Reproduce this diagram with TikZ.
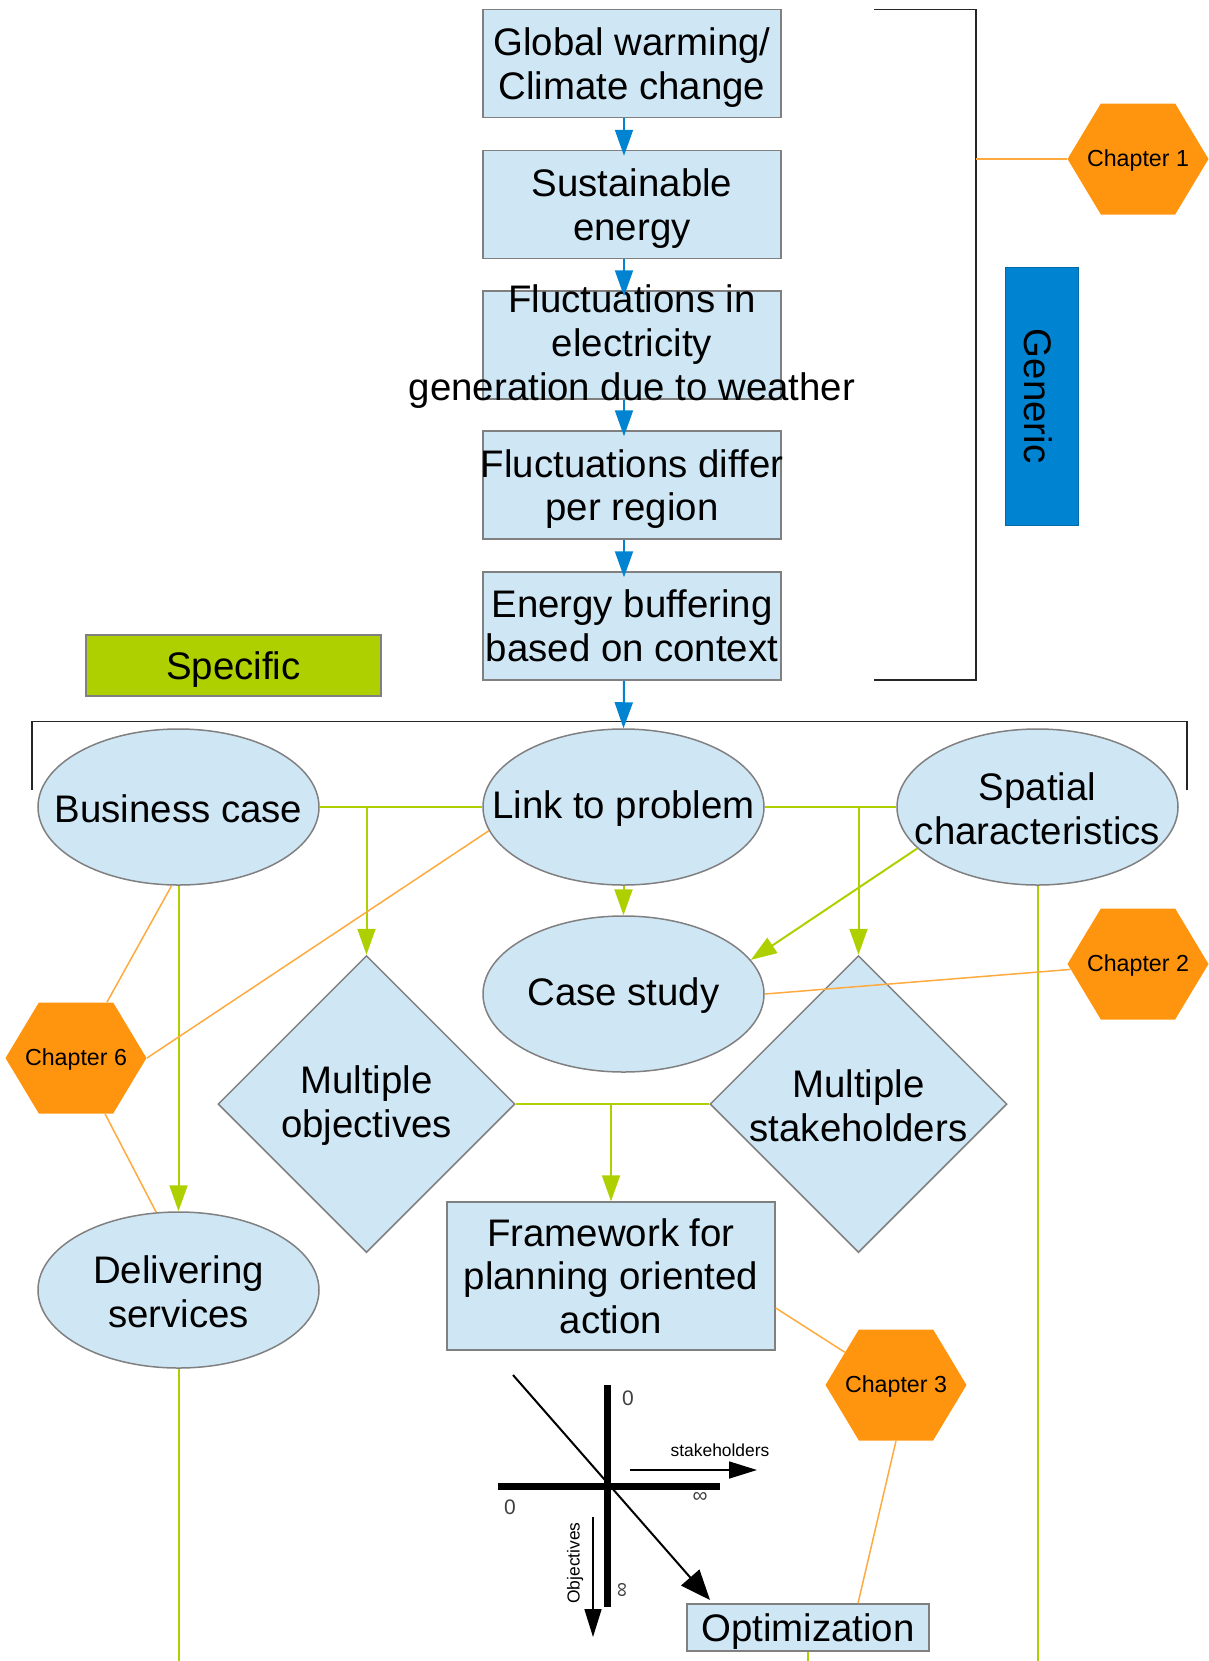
\documentclass[tikz,border=0pt]{standalone}
\usepackage{fontspec}
\setmainfont{Liberation Sans}
\usepackage{tikz}
\definecolor{pb}{RGB}{207, 231, 245}
\definecolor{bd}{RGB}{128, 128, 128}
\definecolor{bl}{RGB}{0, 132, 209}
\definecolor{gr}{RGB}{174, 207, 0}
\definecolor{og}{RGB}{255, 149, 14}
\usetikzlibrary{positioning}
\usetikzlibrary{shapes.geometric}
\usetikzlibrary{shapes.symbols}
\usetikzlibrary{arrows.meta}
\newcommand{\boxtop}{\rule{0pt}{18pt}}

\begin{document}
\begin{tikzpicture}[every node/.style={inner sep=0pt},
fnt/.style={align=center, font=\fontsize{19.2}{21.8}\selectfont},
txt/.style={fnt, yshift=-0.8pt},
box/.style={fnt, rectangle, fill=pb, draw=bd, line width=0.75pt, minimum width=149pt, minimum height=54pt},
oval/.style={ellipse, fill=pb, draw=bd, line width=0.75pt, minimum width=140.5pt, minimum height=78pt},
dia/.style={diamond, fill=pb, draw=bd, line width=0.75pt, minimum width=148.5pt, minimum height=148.5pt},
hex/.style={signal, signal to=east and west, signal pointer angle=118, fill=og, minimum width=70.5pt, minimum height=55.5pt},
chap/.style={font=\fontsize{11.6}{14}\selectfont, yshift=-0.8pt},
tiny/.style={font=\fontsize{8.7}{10}\selectfont},
num/.style={font=\fontsize{10.5}{12}\selectfont, text=black!75},
bla/.style={line width=1pt, color=bl, shorten >=-3pt, -{Triangle[length=13pt, width=9pt]}},
gl/.style={line width=1pt, color=gr},
ga/.style={gl, -{Triangle[length=13pt, width=9pt]}},
ol/.style={line width=0.75pt, color=og!80},
brk/.style={line width=0.9pt, color=black!85}]
\useasboundingbox (0pt, 0pt) rectangle (604.5pt, -830.5pt);
% generic chain
\node (1) [box] at (316pt, -31.8pt) {\boxtop Global warming/\\Climate change};
\node (2) [box] at (316pt, -102.25pt) {\boxtop Sustainable\\energy};
\node (3) [box] at (316pt, -172.5pt) {};
\node (3t) [txt] at (3) {Fluctuations in\\electricity\\generation due to weather};
\node (4) [box] at (316pt, -242.5pt) {\boxtop\makebox[0pt]{Fluctuations differ}\\per region};
\node (5) [box] at (316pt, -313pt) {Energy buffering\\based on context};
\node (6) [fnt, rotate=-90, fill=bl, draw=bl!80!black, line width=0.5pt, minimum width=129pt, minimum height=36.5pt] at (521pt, -198pt) {\boxtop Generic};
\node (7) [fnt, fill=gr, draw=bd, line width=0.75pt, minimum width=147.5pt, minimum height=30.5pt] at (116.75pt, -332.75pt) {\boxtop Specific};
% specific part
\node (8) [oval] at (89.25pt, -403.5pt) {};
\node (8t) [txt] at (8) {Business case};
\node (9) [oval] at (311.75pt, -403.5pt) {};
\node (9t) [txt] at (9) {Link to problem};
\node (10) [oval] at (518.75pt, -403.5pt) {};
\node (10t) [txt] at (10) {Spatial\\characteristics};
\node (11) [oval] at (311.75pt, -497pt) {};
\node (11t) [txt] at (11) {Case study};
\node (12) [dia] at (183.25pt, -552pt) {};
\node (12t) [txt] at (12) {Multiple\\objectives};
\node (13) [dia] at (429.25pt, -552pt) {};
\node (13t) [txt] at (13) {Multiple\\stakeholders};
\node (14) [oval] at (89.25pt, -645pt) {};
\node (14t) [txt] at (14) {Delivering\\services};
\node (15) [box, minimum width=164pt, minimum height=74pt] at (305.5pt, -638pt) {Framework for\\planning oriented\\action};
\node (16) [box, minimum width=121pt, minimum height=23.5pt] at (404pt, -813.75pt) {\boxtop Optimization};
% chapters
\node (17) [hex] at (569pt, -79.5pt) {};
\node (17t) [chap] at (17) {Chapter 1};
\node (18) [hex] at (569pt, -482pt) {};
\node (18t) [chap] at (18) {Chapter 2};
\node (19) [hex] at (38pt, -529pt) {};
\node (19t) [chap] at (19) {Chapter 6};
\node (20) [hex] at (448pt, -692.5pt) {};
\node (20t) [chap] at (20) {Chapter 3};
% brackets
\coordinate (g1) at (437pt, -4.75pt);
\coordinate (g2) at (488pt, -4.75pt);
\coordinate (g3) at (488pt, -340pt);
\coordinate (g4) at (437pt, -340pt);
\coordinate (gm) at (488pt, -79.5pt);
\coordinate (s1) at (16pt, -395pt);
\coordinate (s2) at (16pt, -360.75pt);
\coordinate (s3) at (593.5pt, -360.75pt);
\coordinate (s4) at (593.5pt, -395pt);
\coordinate (b) at (0pt, -830.5pt);
\draw [brk] (g1) -- (g2) -- (g3) -- (g4);
\draw [brk] (s1) -- (s2) -- (s3) -- (s4);
% arrows
\draw [bla] ([xshift=-4pt]1.south) to ([xshift=-4pt]2.north);
\draw [bla] ([xshift=-4pt]2.south) to ([xshift=-4pt]3.north);
\draw [bla] ([xshift=-4pt]3.south) to ([xshift=-4pt]4.north);
\draw [bla] ([xshift=-4pt]4.south) to ([xshift=-4pt]5.north);
\draw [bla, shorten >=0pt] ([xshift=-4pt]5.south) to (9.north);
\draw [gl] (8.east) to (9.west);
\draw [gl] (9.east) to (10.west);
\draw [ga] (12.north |- 8.east) to (12.north);
\draw [ga] (13.north |- 9.east) to (13.north);
\draw [ga] (9.south) to (11.north);
\draw [ga] (10.199) to (11.15);
\draw [ga] (8.south) to (14.north);
\draw [gl] (12.east) to (13.west);
\draw [ga] (15.north |- 12.east) to (15.north);
\draw [gl] (14.south) to (14.south |- b);
\draw [gl] (10.south) to (10.south |- b);
\draw [gl] (16.south) to (16.south |- b);
\draw [ol] (gm) to (17);
\draw [ol] (11.east) to (18);
\draw [ol] (19) to (8.265);
\draw [ol] (19.east) to (9.190);
\draw [ol] (19) to (14.106);
\draw [ol] (15.-11) to (20);
\draw [ol] (20.south) to ([xshift=25pt]16.north);
% axes
\coordinate (a1) at (256.5pt, -687.5pt);
\coordinate (a2) at (355pt, -800pt);
\coordinate (a3) at (303.5pt, -692.5pt);
\coordinate (a4) at (303.5pt, -803.5pt);
\coordinate (a5) at (249pt, -743pt);
\coordinate (a6) at (360pt, -743pt);
\coordinate (a7) at (315pt, -735pt);
\coordinate (a8) at (378.5pt, -735pt);
\coordinate (a9) at (296.5pt, -758.5pt);
\coordinate (a10) at (296.5pt, -818.5pt);
\draw [line width=3.5pt] (a3) to (a4);
\draw [line width=3.5pt] (a5) to (a6);
\draw [line width=1pt, -{Triangle[length=15pt, width=12pt]}] (a1) to (a2);
\draw [line width=0.8pt, -{Triangle[length=14pt, width=8.5pt]}] (a7) to (a8);
\draw [line width=0.8pt, -{Triangle[length=14pt, width=8.5pt]}] (a9) to (a10);
\node (z1) [num] at (314pt, -699pt) {0};
\node (z2) [num] at (255pt, -753.5pt) {0};
\node (z3) [num] at (350pt, -748.5pt) {∞};
\node (z4) [num, rotate=90] at (311.5pt, -795pt) {∞};
\node (t1) [tiny] at (360pt, -725pt) {stakeholders};
\node (t2) [tiny, rotate=90] at (287.5pt, -781.5pt) {Objectives};
\end{tikzpicture}
\end{document}
